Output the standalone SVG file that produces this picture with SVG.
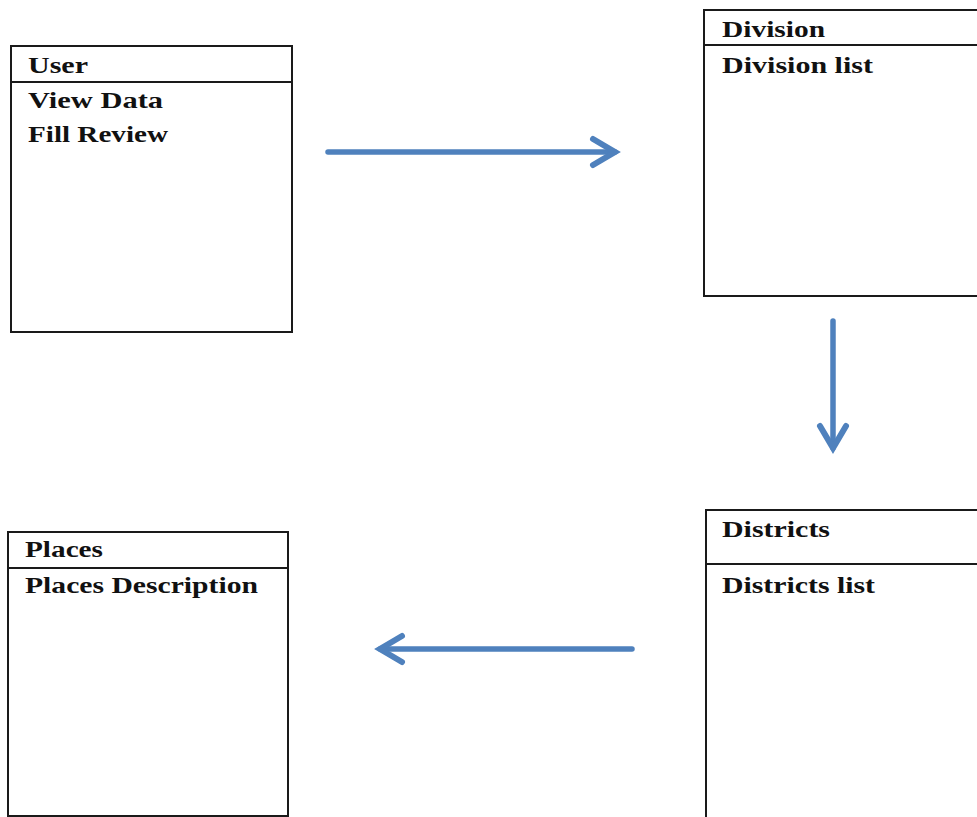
<svg xmlns="http://www.w3.org/2000/svg" width="977" height="817" viewBox="0 0 977 817">
<style>
.box{fill:#fff;stroke:#1a1a1a;stroke-width:2}
.sep{stroke:#1a1a1a;stroke-width:2}
.t{font-family:"Liberation Serif","Times New Roman",serif;font-weight:bold;font-size:24px;fill:#111}
.conn{stroke:#4F81BD;stroke-width:5.5;fill:none;stroke-linecap:round}
</style>
<defs>
<marker id="ah" markerUnits="userSpaceOnUse" viewBox="-30 -20 40 40" refX="0" refY="0" markerWidth="40" markerHeight="40" orient="auto" overflow="visible">
<path d="M-22,-13 L0,0 L-22,13" fill="none" stroke="#4F81BD" stroke-width="6" stroke-linecap="round" stroke-linejoin="miter"/>
</marker>
</defs>
<rect width="977" height="817" fill="#fff"/>
<g id="user">
<rect class="box" x="11" y="46" width="281" height="286"/>
<line class="sep" x1="11" y1="82" x2="292" y2="82"/>
<text class="t" x="28" y="73" textLength="60" lengthAdjust="spacingAndGlyphs">User</text>
<text class="t" x="28" y="108" textLength="135" lengthAdjust="spacingAndGlyphs">View Data</text>
<text class="t" x="28" y="142" textLength="140" lengthAdjust="spacingAndGlyphs">Fill Review</text>
</g>
<g id="division">
<rect class="box" x="704" y="10" width="290" height="286"/>
<line class="sep" x1="704" y1="45" x2="977" y2="45"/>
<text class="t" x="722" y="37" textLength="103" lengthAdjust="spacingAndGlyphs">Division</text>
<text class="t" x="722" y="73" textLength="151" lengthAdjust="spacingAndGlyphs">Division list</text>
</g>
<g id="districts">
<rect class="box" x="706" y="510" width="290" height="320"/>
<line class="sep" x1="706" y1="564" x2="977" y2="564"/>
<text class="t" x="722" y="537" textLength="108" lengthAdjust="spacingAndGlyphs">Districts</text>
<text class="t" x="722" y="593" textLength="153" lengthAdjust="spacingAndGlyphs">Districts list</text>
</g>
<g id="places">
<rect class="box" x="8" y="532" width="280" height="284"/>
<line class="sep" x1="8" y1="568" x2="288" y2="568"/>
<text class="t" x="25" y="557" textLength="78" lengthAdjust="spacingAndGlyphs">Places</text>
<text class="t" x="25" y="593" textLength="233" lengthAdjust="spacingAndGlyphs">Places Description</text>
</g>
<g id="connectors">
<line class="conn" x1="328" y1="152" x2="615" y2="152" marker-end="url(#ah)"/>
<line class="conn" x1="833" y1="321" x2="833" y2="448" marker-end="url(#ah)"/>
<line class="conn" x1="632" y1="649" x2="380" y2="649" marker-end="url(#ah)"/>
</g>
</svg>
